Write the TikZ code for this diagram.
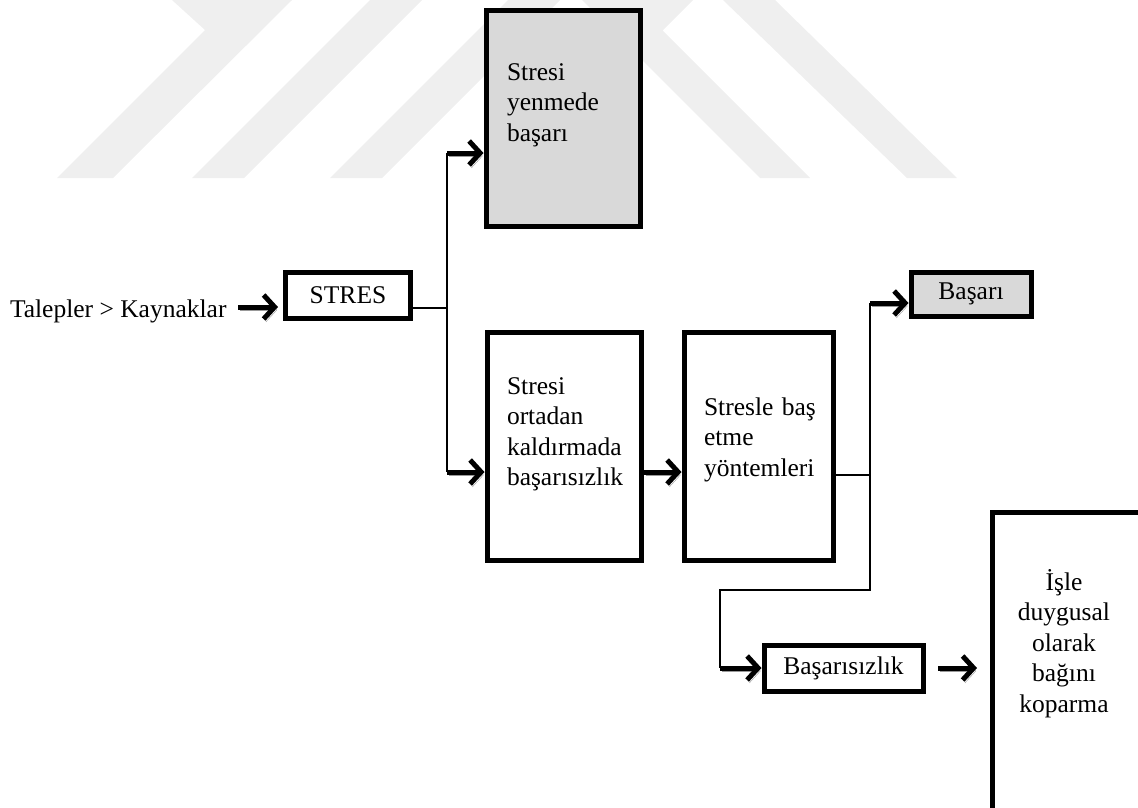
\documentclass[tikz,border=0pt]{standalone}
\usepackage{fontspec}
\setmainfont{Liberation Serif}
\usetikzlibrary{arrows.meta}
\definecolor{boxgray}{HTML}{D9D9D9}
\definecolor{wmgray}{HTML}{EFEFEF}
\definecolor{shadowgray}{HTML}{999999}
\newcommand\lnstrut{\rule[-9pt]{0pt}{29.5pt}}
\begin{document}
\begin{tikzpicture}[x=1pt,y=-1pt,
  every node/.style={font={\fontsize{25.5}{30.5}\selectfont},
    inner sep=0pt, outer sep=0pt},
  box/.style={draw, line width=5pt, anchor=north west},
  graybox/.style={box, fill=boxgray},
  line/.style={anchor=base west},
  txt/.style={anchor=base west, align=left, text width=150pt},
  ctxt/.style={anchor=base, align=center, text width=140pt},
  wire/.style={line width=1.4pt},
  flow/.style={line width=5pt, shorten >=2.5pt,
    -{Straight Barb[length=11pt,width=24pt,line width=5pt]},
    preaction={draw=shadowgray, transform canvas={shift={(2.2pt,-3pt)}}}},
]
\useasboundingbox (0,0) rectangle (1138,807);
% watermark
\begin{scope}
\clip (0,0) rectangle (1138,178);
\fill[wmgray] (57,178) -- (205,30) -- (172,0) -- (292,0) -- (113,178) -- cycle;
\fill[wmgray] (192,178) -- (370,0) -- (422,0) -- (244,178) -- cycle;
\fill[wmgray] (330,178) -- (508,0) -- (560,0) -- (382,178) -- cycle;
\fill[wmgray] (582,0) -- (693,0) -- (662.5,30.5) -- (810,178) -- (760,178) -- cycle;
\fill[wmgray] (723,0) -- (775,0) -- (957,178) -- (907,178) -- cycle;
\end{scope}
% nodes
\node[line] (talep) at (10,317) {Talepler > Kaynaklar};
\node[box, minimum width=125pt, minimum height=46pt] (stres) at (285.5,272.5) {STRES};
\node[graybox, minimum width=154pt, minimum height=216pt] (succ) at (486,10) {};
\node[txt] (succT) at (507,80) {\lnstrut Stresi\\\lnstrut yenmede\\\lnstrut başarı};
\node[box, minimum width=154pt, minimum height=228pt] (fail) at (487,332) {};
\node[txt] (failT) at (507,394) {\lnstrut Stresi\\\lnstrut ortadan\\\lnstrut kaldırmada\\\lnstrut başarısızlık};
\node[box, minimum width=149pt, minimum height=228pt] (cope) at (684,332) {};
\node[txt] (copeT) at (704,415) {\lnstrut Stresle baş\\\lnstrut etme\\\lnstrut yöntemleri};
\node[graybox, minimum width=120pt, minimum height=44pt] (basari) at (911,272) {Başarı};
\node[box, minimum width=159pt, minimum height=46pt] (basarisiz) at (764,645) {Başarısızlık};
\node[box, minimum width=150pt, minimum height=298pt] (detach) at (992,512) {};
\node[ctxt] (detachT) at (1064,590) {\lnstrut İşle\\\lnstrut duygusal\\\lnstrut olarak\\\lnstrut bağını\\\lnstrut koparma};
% junctions
\coordinate (tA) at (238,307);
\coordinate (jS) at (447,308);
\coordinate (jT) at (447,153);
\coordinate (jB) at (447,472);
\coordinate (jR) at (870,475);
\coordinate (jRT) at (870,303);
\coordinate (jRB) at (870,590);
\coordinate (jL) at (720,590);
\coordinate (jLB) at (720,668);
% connectors
\draw[flow, shorten >=7.5pt] (tA) -- (stres.west |- tA);
\draw[wire] (stres.east |- jS) -- (jS);
\draw[wire] (jT) -- (jB);
\draw[flow] (jT) -- (succ.west |- jT);
\draw[flow] (jB) -- (fail.west |- jB);
\draw[flow, shorten <=2.5pt] (fail.east |- jB) -- (cope.west |- jB);
\draw[wire] (cope.east |- jR) -- (jR);
\draw[wire] (jRT) -- (jRB) -- (jL) -- (jLB);
\draw[flow] (jRT) -- (basari.west |- jRT);
\draw[flow] (jLB) -- (basarisiz.west |- jLB);
\draw[flow, shorten <=15pt, shorten >=15pt] (basarisiz.east |- jLB) -- (detach.west |- jLB);
\end{tikzpicture}
\end{document}
